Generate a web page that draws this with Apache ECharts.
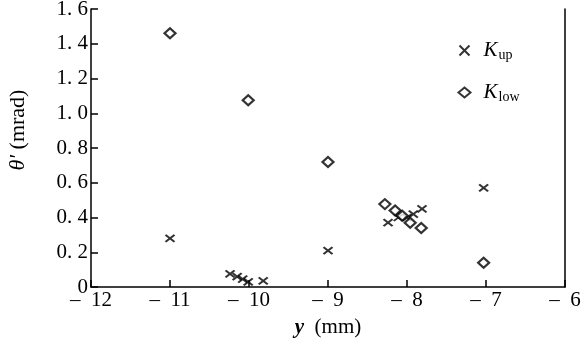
<!DOCTYPE html>
<html><head><meta charset="utf-8">
<script src="https://cdn.jsdelivr.net/npm/echarts@6/dist/echarts.min.js"></script>
<style>html,body{margin:0;padding:0;background:#fff}#c{width:587px;height:340px}</style>
</head><body><div id="c"></div>
<script>
// x positions (mm) and theta' values (mrad)
const kupX = [-11.0, -10.24, -10.15, -10.08, -10.01, -9.82, -9.0, -8.24, -8.11, -8.0, -7.92, -7.81, -7.03];
const kupY = [0.28, 0.075, 0.06, 0.045, 0.03, 0.035, 0.21, 0.37, 0.40, 0.40, 0.42, 0.45, 0.57];
const klowX = [-11.0, -10.01, -9.0, -8.28, -8.15, -8.06, -7.96, -7.82, -7.03];
const klowY = [1.46, 1.075, 0.72, 0.477, 0.44, 0.41, 0.37, 0.34, 0.14];
const xTicks = [-12, -11, -10, -9, -8, -7, -6];
const yTicks = [0, 0.2, 0.4, 0.6, 0.8, 1.0, 1.2, 1.4, 1.6];

const serif = 'Liberation Serif';
const cross = 'path://M0,0L10,10M10,0L0,10';
const pairs = (xs, ys) => xs.map((x, i) => [x, ys[i]]);

const chart = echarts.init(document.getElementById('c'));
chart.setOption({
  animation: false,
  backgroundColor: '#fff',
  grid: {left: 91, right: 22, top: 9, bottom: 53, containLabel: false, outerBoundsMode: 'none'},
  legend: {
    orient: 'vertical', left: 452, top: 35, itemGap: 20,
    itemWidth: 12, itemHeight: 10,
    data: ['Kup', 'Klow'],
    formatter: n => n === 'Kup' ? '{k|K}{s|up}' : '{k|K}{s|low}',
    textStyle: {
      color: '#000',
      rich: {
        k: {fontFamily: serif, fontStyle: 'italic', fontSize: 21, color: '#000', padding: [0, 0, 0, 8]},
        s: {fontFamily: serif, fontSize: 14, color: '#000', padding: [9, 0, 0, 1]}
      }
    }
  },
  xAxis: {
    type: 'value', min: -12, max: -6, interval: 1,
    name: '{b|y}  (mm)', nameLocation: 'middle', nameGap: 30,
    nameTextStyle: {fontFamily: serif, fontSize: 21, color: '#000',
      rich: {b: {fontFamily: serif, fontSize: 21, fontStyle: 'italic', fontWeight: 'bold', color: '#000'}}},
    axisLine: {show: true, onZero: false, lineStyle: {color: '#000', width: 1.5}},
    axisTick: {show: true, inside: true, length: 7, lineStyle: {color: '#000', width: 1.5}},
    axisLabel: {fontFamily: serif, fontSize: 21, color: '#000', margin: 3,
      formatter: v => xTicks.includes(v) ? '–  ' + Math.abs(v) : ''},
    splitLine: {show: false}
  },
  yAxis: [{
    type: 'value', min: 0, max: 1.6, interval: 0.2,
    name: "{t|θ'} (mrad)", nameLocation: 'middle', nameGap: 62,
    nameTextStyle: {fontFamily: serif, fontSize: 22, color: '#000', padding: [0, 0, 0, 36],
      rich: {t: {fontFamily: serif, fontSize: 22, fontStyle: 'italic', color: '#000'}}},
    axisLine: {show: true, onZero: false, lineStyle: {color: '#000', width: 1.5}},
    axisTick: {show: true, inside: true, length: 7, lineStyle: {color: '#000', width: 1.5}},
    axisLabel: {fontFamily: serif, fontSize: 21, color: '#000', margin: 3,
      formatter: v => v === 0 ? '0' : v.toFixed(1).replace('.', '. ')},
    splitLine: {show: false}
  }, {
    type: 'value', position: 'right', min: 0, max: 1.6,
    axisLine: {show: true, lineStyle: {color: '#000', width: 1.5}},
    axisTick: {show: false}, axisLabel: {show: false}, splitLine: {show: false}
  }],
  series: [{
    name: 'Kup', type: 'scatter', data: pairs(kupX, kupY),
    symbol: cross, symbolSize: [9, 7],
    itemStyle: {color: 'none', borderColor: '#000', borderWidth: 2}
  }, {
    name: 'Klow', type: 'scatter', data: pairs(klowX, klowY),
    symbol: 'diamond', symbolSize: [11, 10],
    itemStyle: {color: '#fff', borderColor: '#000', borderWidth: 2.2}
  }]
});
</script></body></html>
